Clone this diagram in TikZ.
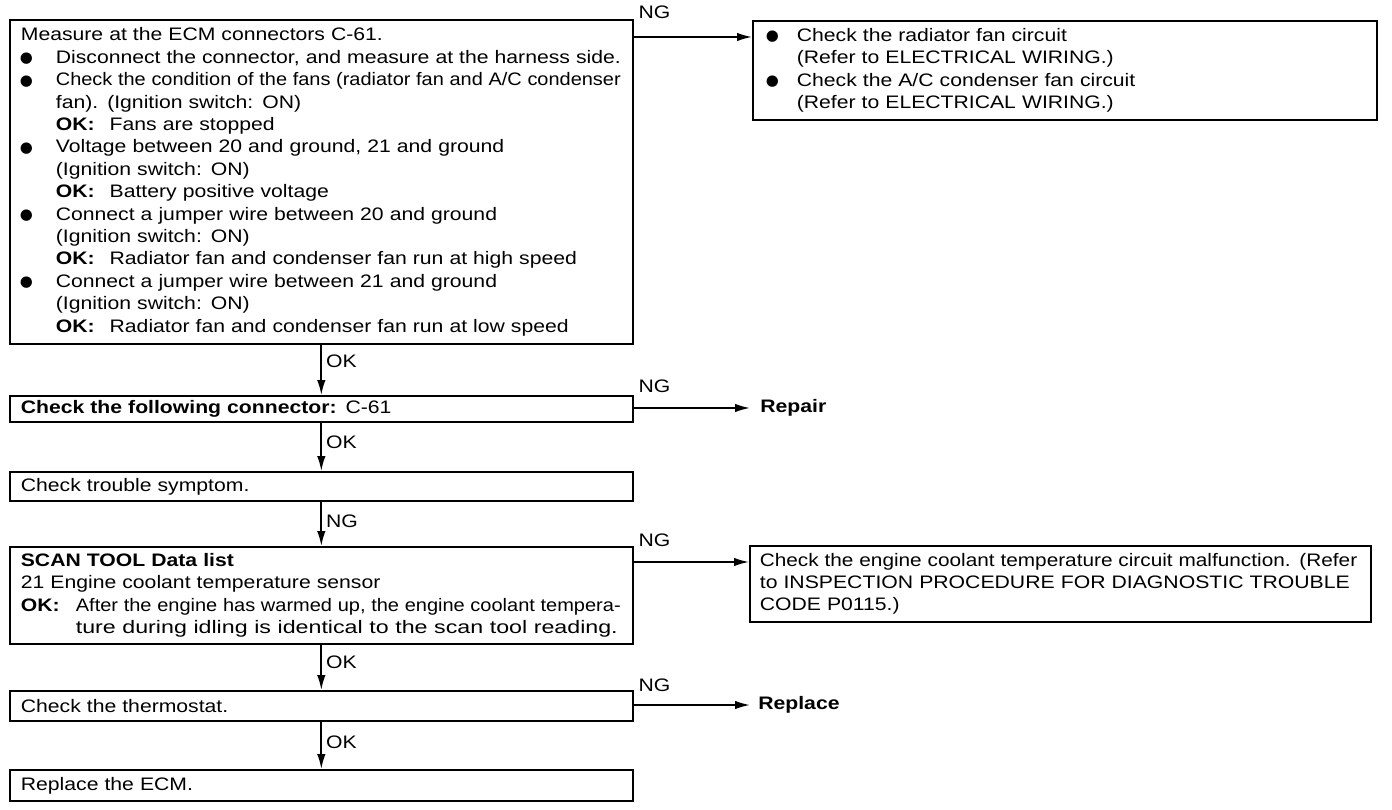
\documentclass[tikz,border=0pt]{standalone}
\usepackage{fontspec}
\setmainfont{Liberation Sans}[FakeStretch=1.17]
\newfontfamily\dejavu{DejaVu Sans}
\usepackage{graphicx}
\usetikzlibrary{arrows.meta}
\newcommand\fs{\fontsize{10.3}{12.75}\selectfont}
\newcommand\bdot{\raisebox{0.01cm}{\dejavu\fontsize{8.5}{8.5}\selectfont ●}}
\newcommand\blt{\makebox[0.7cm][l]{\hspace{-0.02cm}\bdot}}
\newcommand\ind{\hspace*{0.7cm}}
\newcommand\bltr{\makebox[0.58cm][l]{\hspace{-0.04cm}\bdot}}
\newcommand\indr{\hspace*{0.58cm}}
\newcommand\fitw[2]{\resizebox{#1}{\height}{#2}}
\newcommand\okk{\textbf{OK:}\hspace{0.3cm}}
\tikzset{
  box/.style={draw, line width=1pt, anchor=north west, inner ysep=0pt, align=left, font=\fs,
    minimum width=12.46cm, text width=12.02cm, inner xsep=0.22cm},
  arr/.style={line width=1pt, -{Latex[length=0.3cm,width=0.17cm]}},
  lab/.style={font=\fs, inner sep=0.08cm},
}
\begin{document}
\begin{tikzpicture}[x=0.02cm,y=-0.02cm]
\fill[white] (0,0) rectangle (1392,810);
\useasboundingbox (0,0) rectangle (1392,810);

\node[box, minimum height=6.48cm] (b1) at (9,19) {Measure at the ECM connectors C-61.\\
\blt Disconnect the connector, and measure at the harness side.\\
\blt \fitw{11.30cm}{Check the condition of the fans (radiator fan and A/C condenser}\\
\ind fan). (Ignition switch: ON)\\
\ind \okk Fans are stopped\\
\blt Voltage between 20 and ground, 21 and ground\\
\ind (Ignition switch: ON)\\
\ind \okk Battery positive voltage\\
\blt Connect a jumper wire between 20 and ground\\
\ind (Ignition switch: ON)\\
\ind \okk Radiator fan and condenser fan run at high speed\\
\blt Connect a jumper wire between 21 and ground\\
\ind (Ignition switch: ON)\\
\ind \okk Radiator fan and condenser fan run at low speed};

\node[box, minimum width=12.48cm, minimum height=1.98cm, text width=11.88cm, inner xsep=0.3cm] (r1) at (752,20) {\bltr Check the radiator fan circuit\\
\indr (Refer to ELECTRICAL WIRING.)\\
\bltr Check the A/C condenser fan circuit\\
\indr (Refer to ELECTRICAL WIRING.)};

\node[box, minimum height=0.52cm] (b2) at (9,395) {\textbf{Check the following connector:} C-61};
\node[box, minimum height=0.58cm] (b3) at (9,471) {Check trouble symptom.};
\node[box, minimum height=1.94cm] (b4) at (9,546) {\textbf{SCAN TOOL Data list}\\
21 Engine coolant temperature sensor\\
\makebox[1.1cm][l]{\textbf{OK:}}\fitw{10.9cm}{After the engine has warmed up, the engine coolant tempera-}\\
\hspace*{1.1cm}\fitw{10.84cm}{ture during idling is identical to the scan tool reading.}};
\node[box, minimum width=12.42cm, minimum height=1.52cm, inner xsep=0.2cm] (r2) at (749,545) {\fitw{11.95cm}{Check the engine coolant temperature circuit malfunction. (Refer}\\
\fitw{11.8cm}{to INSPECTION PROCEDURE FOR DIAGNOSTIC TROUBLE}\\
CODE P0115.)};
\node[box, minimum height=0.6cm] (b5) at (9,690) {Check the thermostat.};
\node[box, minimum height=0.62cm] (b6) at (9,769) {Replace the ECM.};

\node[lab, anchor=west, inner xsep=0.2cm, font=\fs\bfseries] (rep) at (750,408) {Repair};
\node[lab, anchor=west, inner xsep=0.16cm, font=\fs\bfseries] (rpl) at (750,705) {Replace};

\coordinate (y1) at (0,37);
\coordinate (y2) at (0,408);
\coordinate (y3) at (0,562);
\coordinate (y4) at (0,705);

\draw[arr] (b1.east |- y1) -- node[lab, pos=0, anchor=south west, yshift=0.26cm]{NG} (r1.west |- y1);
\draw[arr] (b2.east |- y2) -- node[lab, pos=0, anchor=south west, yshift=0.2cm]{NG} (rep.west);
\draw[arr] (b4.east |- y3) -- node[lab, pos=0, anchor=south west, yshift=0.2cm]{NG} (r2.west |- y3);
\draw[arr] (b5.east |- y4) -- node[lab, pos=0, anchor=south west, yshift=0.16cm]{NG} (rpl.west);

\draw[arr] (b1.south) -- node[lab, pos=0.33, anchor=west]{OK} (b2.north);
\draw[arr] (b2.south) -- node[lab, pos=0.4, anchor=west]{OK} (b3.north);
\draw[arr] (b3.south) -- node[lab, pos=0.43, anchor=west]{NG} (b4.north);
\draw[arr] (b4.south) -- node[lab, pos=0.38, anchor=west]{OK} (b5.north);
\draw[arr] (b5.south) -- node[lab, pos=0.43, anchor=west]{OK} (b6.north);
\end{tikzpicture}
\end{document}
